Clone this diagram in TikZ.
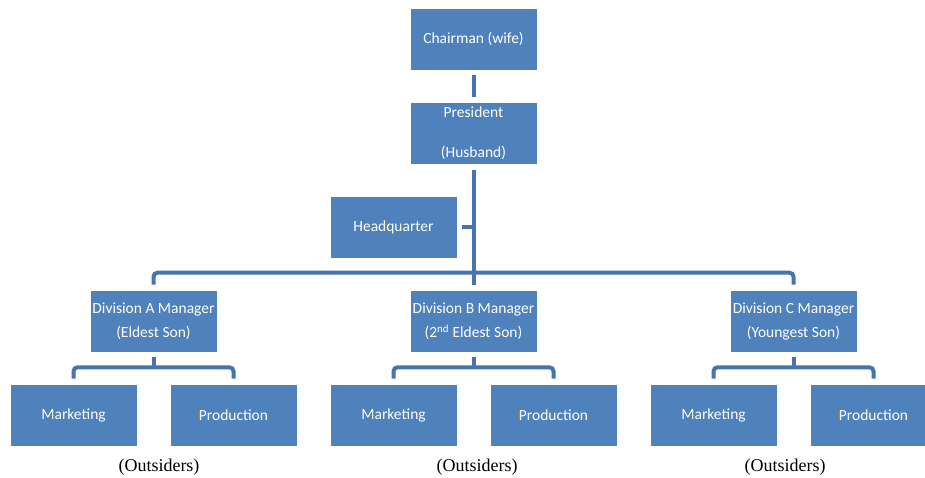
\documentclass[tikz,border=0pt]{standalone}
\usepackage{fontspec}
\setmainfont{Carlito}
\newfontfamily\serifface{Liberation Serif}
\usetikzlibrary{calc}
\definecolor{boxblue}{HTML}{4F81BD}
\definecolor{lineblue}{HTML}{4674AE}
\tikzset{
  box/.style={rectangle, fill=boxblue, draw=white, line width=0.6pt,
    minimum width=127pt, minimum height=62pt, inner sep=0pt,
    text=white, align=center, font=\fontsize{15.5}{24}\selectfont},
  conn/.style={draw=lineblue, line width=4pt},
  note/.style={font=\serifface\fontsize{18}{20}\selectfont, text=black}
}
\begin{document}
\begin{tikzpicture}[x=1pt, y=-1pt]
\useasboundingbox (0,0) rectangle (925,478);
\fill[white] (0,0) rectangle (925,478);
% top
\node[box] (ch) at (473.5,39) {Chairman (wife)};
\node[box] (pres) at (473.5,133.5) {President\\[16pt](Husband)};
\node[box] (hq) at (393.5,227.5) {Headquarter};
% divisions
\node[box] (divA) at (153.5,321) {Division A Manager\\(Eldest Son)};
\node[box] (divB) at (473.5,321) {Division B Manager\\(2\textsuperscript{nd} Eldest Son)};
\node[box] (divC) at (793.5,321) {Division C Manager\\(Youngest Son)};
% departments
\node[box] (mA) at (73.5,415) {Marketing};
\node[box] (pA) at (233.5,415) {Production};
\node[box] (mB) at (393.5,415) {Marketing};
\node[box] (pB) at (553.5,415) {Production};
\node[box] (mC) at (713.5,415) {Marketing};
\node[box] (pC) at (873.5,415) {Production};
% outsiders
\node[note] (oA) at (159,467) {(Outsiders)};
\node[note] (oB) at (477,467) {(Outsiders)};
\node[note] (oC) at (785,467) {(Outsiders)};
% connectors
\coordinate (bar) at ($(divB.north)+(0,-17)$);
\draw[conn] ([yshift=-5pt]ch.south) -- ([yshift=5pt]pres.north);
\draw[conn] ([yshift=-5pt]pres.south) -- ([yshift=5pt]divB.north);
\draw[conn] ([xshift=5pt]hq.east) -- (hq.east -| pres.south);
\draw[conn, rounded corners=4pt] ([yshift=5pt]divA.north) |- (bar) -| ([yshift=5pt]divC.north);
\foreach \d/\m/\p in {divA/mA/pA, divB/mB/pB, divC/mC/pC}{
  \coordinate (j\d) at ($(\d.south)+(0,15)$);
  \draw[conn] ([yshift=-5pt]\d.south) -- (j\d);
  \draw[conn, rounded corners=4pt] ([yshift=5pt]\m.north) |- (j\d) -| ([yshift=5pt]\p.north);
}
\end{tikzpicture}
\end{document}
